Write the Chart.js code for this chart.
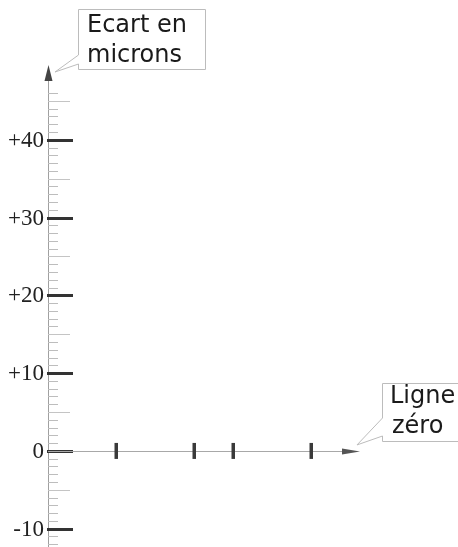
<!DOCTYPE html>
<html>
<head>
<meta charset="utf-8">
<script src="https://cdn.jsdelivr.net/npm/chart.js@4"></script>
<style>
  html, body { margin: 0; padding: 0; background: #fff; overflow: hidden; }
  canvas { display: block; }
</style>
</head>
<body>
<canvas id="chart" width="458" height="547"></canvas>
<script>
// positions des repères sur la ligne zéro
const markPositions = [3.5, 7.5, 9.5, 13.5];
// graduations principales de l'axe vertical (microns)
const yMajorTicks = [-10, 0, 10, 20, 30, 40];
const yTitle = ["Ecart en", "microns"];
const xTitle = ["Ligne", "zéro"];

const calloutFont = '24px "DejaVu Sans"';
const tickFont = '23px "Liberation Serif"';

// axes, graduations, flèches et bulles
const decoPlugin = {
  id: 'deco',
  beforeDatasetsDraw(chart) {
    const ctx = chart.ctx;
    const ys = chart.scales.y;
    const xs = chart.scales.x;
    const area = chart.chartArea;
    const x0 = area.left;
    const y0 = ys.getPixelForValue(0);
    ctx.save();

    // axe vertical
    ctx.strokeStyle = '#a0a0a0';
    ctx.lineWidth = 1;
    ctx.beginPath();
    ctx.moveTo(x0 + 0.5, area.top + 10);
    ctx.lineTo(x0 + 0.5, area.bottom);
    ctx.stroke();

    // graduations
    for (let v = Math.ceil(ys.min); v <= 46; v++) {
      const py = Math.round(ys.getPixelForValue(v)) + 0.5;
      ctx.beginPath();
      if (v % 10 === 0) {
        ctx.strokeStyle = '#333';
        ctx.lineWidth = 3;
        ctx.moveTo(x0 - 1, py);
        ctx.lineTo(x0 + 25, py);
      } else if (v % 5 === 0) {
        ctx.strokeStyle = '#c4c4c4';
        ctx.lineWidth = 1;
        ctx.moveTo(x0, py);
        ctx.lineTo(x0 + 22, py);
      } else {
        ctx.strokeStyle = '#bdbdbd';
        ctx.lineWidth = 1;
        ctx.moveTo(x0, py);
        ctx.lineTo(x0 + 10, py);
      }
      ctx.stroke();
    }

    // libellés des graduations (texte généré par le callback de l'échelle)
    ctx.font = tickFont;
    ctx.fillStyle = '#222';
    ctx.textAlign = 'right';
    ctx.textBaseline = 'middle';
    ys.ticks.forEach(t => {
      if (t.label) ctx.fillText(t.label, x0 - 4, ys.getPixelForValue(t.value) + 1);
    });

    // flèche en haut
    ctx.fillStyle = '#444';
    ctx.beginPath();
    ctx.moveTo(x0 + 0.5, area.top + 3);
    ctx.lineTo(x0 + 4.5, area.top + 19);
    ctx.lineTo(x0 - 3.5, area.top + 19);
    ctx.closePath();
    ctx.fill();

    // ligne zéro
    const xEnd = xs.getPixelForValue(xs.max);
    ctx.strokeStyle = '#a8a8a8';
    ctx.lineWidth = 1;
    ctx.beginPath();
    ctx.moveTo(x0, Math.round(y0) + 0.5);
    ctx.lineTo(xEnd - 4, Math.round(y0) + 0.5);
    ctx.stroke();
    ctx.fillStyle = '#555';
    ctx.beginPath();
    ctx.moveTo(xEnd, y0 + 0.5);
    ctx.lineTo(xEnd - 18, y0 - 2.5);
    ctx.lineTo(xEnd - 18, y0 + 3.5);
    ctx.closePath();
    ctx.fill();
    ctx.restore();
  },
  afterDraw(chart) {
    const ctx = chart.ctx;
    const ys = chart.scales.y;
    const xs = chart.scales.x;
    const area = chart.chartArea;
    const y0 = ys.getPixelForValue(0);
    ctx.save();
    ctx.strokeStyle = '#bcbcbc';
    ctx.lineWidth = 1;
    ctx.font = calloutFont;
    ctx.fillStyle = '#1a1a1a';
    ctx.textBaseline = 'alphabetic';

    // bulle "Ecart en microns"
    const b1 = { l: 78.5, t: 9.5, r: 205.5, b: 69.5 };
    const tip1 = { x: area.left + 7, y: area.top + 10 };
    ctx.beginPath();
    ctx.moveTo(b1.l, 55);
    ctx.lineTo(b1.l, b1.t);
    ctx.lineTo(b1.r, b1.t);
    ctx.lineTo(b1.r, b1.b);
    ctx.lineTo(b1.l, b1.b);
    ctx.lineTo(b1.l, 64);
    ctx.lineTo(tip1.x, tip1.y);
    ctx.lineTo(b1.l, 55);
    ctx.stroke();
    ctx.fillText(yTitle[0], 87, 32);
    ctx.fillText(yTitle[1], 87, 62);

    // bulle "Ligne zéro"
    const b2 = { l: 382.5, t: 383.5, r: 470, b: 441.5 };
    const tip2 = { x: xs.getPixelForValue(xs.max) - 3, y: y0 - 6 };
    ctx.beginPath();
    ctx.moveTo(b2.l, 418);
    ctx.lineTo(b2.l, b2.t);
    ctx.lineTo(b2.r, b2.t);
    ctx.moveTo(b2.r, b2.b);
    ctx.lineTo(b2.l, b2.b);
    ctx.lineTo(b2.l, 436);
    ctx.lineTo(tip2.x, tip2.y);
    ctx.lineTo(b2.l, 418);
    ctx.stroke();
    ctx.fillText(xTitle[0], 390, 403);
    ctx.fillText(xTitle[1], 392, 433);
    ctx.restore();
  }
};

new Chart(document.getElementById('chart'), {
  type: 'scatter',
  data: {
    datasets: [{
      data: markPositions.map(x => ({ x: x, y: 0 })),
      pointStyle: 'line',
      rotation: 90,
      pointRadius: 8,
      pointHoverRadius: 8,
      borderWidth: 3.5,
      borderColor: '#3a3a3a',
      backgroundColor: '#3a3a3a'
    }]
  },
  options: {
    responsive: false,
    animation: false,
    layout: {
      autoPadding: false,
      padding: { top: 62, right: 98, bottom: 0, left: 0 }
    },
    plugins: {
      legend: { display: false },
      tooltip: { enabled: false }
    },
    scales: {
      x: {
        type: 'linear',
        display: false,
        min: 0,
        max: 16
      },
      y: {
        type: 'linear',
        min: -12.35,
        max: 50,
        afterFit: s => { s.width = 48; },
        grid: { display: false, drawTicks: false },
        border: { display: false },
        ticks: {
          display: false,
          stepSize: 1,
          autoSkip: false,
          callback: v => yMajorTicks.includes(v) ? (v > 0 ? '+' + v : String(v)) : ''
        }
      }
    }
  },
  plugins: [decoPlugin]
});
</script>
</body>
</html>
